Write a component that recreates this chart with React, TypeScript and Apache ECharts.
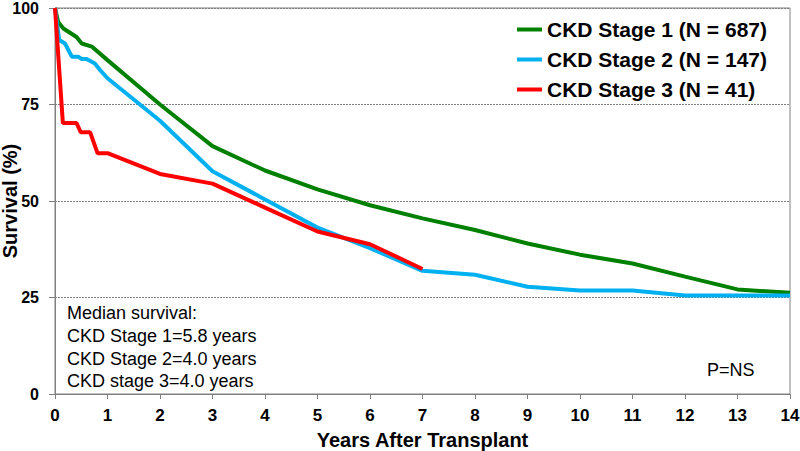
import React, { useEffect, useRef } from "react";
import * as echarts from "echarts";

const seriesNames = ["CKD Stage 1 (N = 687)", "CKD Stage 2 (N = 147)", "CKD Stage 3 (N = 41)"];

const stage1Years = [0, 0.06, 0.16, 0.41, 0.51, 0.7, 1.0, 2, 3, 4, 5, 6, 7, 8, 9, 10, 11, 12, 13, 14];
const stage1Survival = [100, 96.4, 94.7, 92.5, 90.8, 90.0, 86.5, 75, 64.2, 57.9, 53.0, 48.9, 45.5, 42.5, 39.0, 36.1, 33.8, 30.4, 27.1, 26.2];

const stage2Years = [0, 0.08, 0.19, 0.32, 0.44, 0.51, 0.6, 0.76, 0.86, 1.0, 2, 3, 4, 5, 6, 7, 8, 9, 10, 11, 12, 13, 14];
const stage2Survival = [100, 91.7, 90.8, 87.4, 87.4, 86.8, 86.8, 85.6, 83.9, 81.8, 70.8, 57.7, 50.4, 43.1, 37.8, 31.9, 30.9, 27.8, 26.8, 26.8, 25.5, 25.5, 25.5];

const stage3Years = [0, 0.15, 0.41, 0.49, 0.67, 0.81, 1.0, 2, 3, 4, 5, 6, 7];
const stage3Survival = [100, 70.2, 70.2, 67.8, 67.8, 62.4, 62.4, 57.0, 54.5, 48.3, 42.1, 38.8, 32.4];

const seriesColors = ["#008000", "#00B0F0", "#FF0000"];

const medianLines = [
  "Median survival:",
  "CKD Stage 1=5.8 years",
  "CKD Stage 2=4.0 years",
  "CKD stage 3=4.0 years",
];
const pValueText = "P=NS";

const FONT = "'Liberation Sans', Arial, sans-serif";

function pairs(xs: number[], ys: number[]) {
  return xs.map((x, i) => [x, ys[i]]);
}

export default function App() {
  const ref = useRef<HTMLDivElement>(null);
  useEffect(() => {
    if (!ref.current) return;
    const chart = echarts.init(ref.current, undefined, { renderer: "svg" });
    const datasets = [
      pairs(stage1Years, stage1Survival),
      pairs(stage2Years, stage2Survival),
      pairs(stage3Years, stage3Survival),
    ];
    chart.setOption({
      animation: false,
      backgroundColor: "#ffffff",
      textStyle: { fontFamily: FONT },
      grid: {
        left: 55,
        right: 10,
        top: 8,
        bottom: 57,
        containLabel: false,
        outerBoundsMode: "none",
        show: true,
        borderColor: "#808080",
        borderWidth: 1,
        backgroundColor: "transparent",
      },
      legend: {
        orient: "vertical",
        left: 517,
        top: 19,
        padding: 0,
        itemWidth: 25,
        itemHeight: 4,
        itemGap: 9,
        icon: "rect",
        data: seriesNames,
        textStyle: { fontFamily: FONT, fontSize: 21, fontWeight: "bold", color: "#000" },
      },
      xAxis: {
        type: "value",
        min: 0,
        max: 14,
        interval: 1,
        name: "Years After Transplant",
        nameLocation: "middle",
        nameGap: 36,
        nameMoveOverlap: false,
        nameTextStyle: { fontFamily: FONT, fontSize: 20, fontWeight: "bold", color: "#000" },
        axisLine: { show: true, lineStyle: { color: "#808080", width: 1 } },
        axisTick: { show: true, length: 5, lineStyle: { color: "#808080" } },
        axisLabel: { fontFamily: FONT, fontSize: 17, fontWeight: "bold", color: "#000", margin: 13 },
        splitLine: { show: false },
      },
      yAxis: {
        type: "value",
        min: 0,
        max: 100,
        interval: 25,
        name: "Survival (%)",
        nameLocation: "middle",
        nameGap: 35,
        nameMoveOverlap: false,
        nameTextStyle: { fontFamily: FONT, fontSize: 20, fontWeight: "bold", color: "#000" },
        axisLine: { show: true, lineStyle: { color: "#808080", width: 1 } },
        axisTick: { show: true, length: 6, lineStyle: { color: "#808080" } },
        axisLabel: {
          fontFamily: FONT,
          fontSize: 16,
          fontWeight: "bold",
          color: "#000",
          margin: 16,
        },
        splitLine: { show: true, lineStyle: { color: "#808080", type: [2, 1], width: 1 } },
      },
      series: seriesNames.map((name, i) => ({
        name,
        type: "line",
        data: datasets[i],
        showSymbol: false,
        symbol: "none",
        lineStyle: { color: seriesColors[i], width: 4 },
        itemStyle: { color: seriesColors[i] },
        z: 3 + i,
      })),
      graphic: [
        {
          type: "text",
          left: 67,
          top: 302,
          style: {
            text: medianLines.join("\n"),
            font: `18px ${FONT}`,
            fill: "#000",
            lineHeight: 22.6,
          },
        },
        {
          type: "text",
          left: 707,
          top: 361,
          style: { text: pValueText, font: `18px ${FONT}`, fill: "#000" },
        },
      ],
    });
    return () => chart.dispose();
  }, []);
  return (
    <div
      ref={ref}
      style={{ position: "fixed", left: 0, top: 0, width: 800, height: 451, background: "#fff" }}
    />
  );
}
